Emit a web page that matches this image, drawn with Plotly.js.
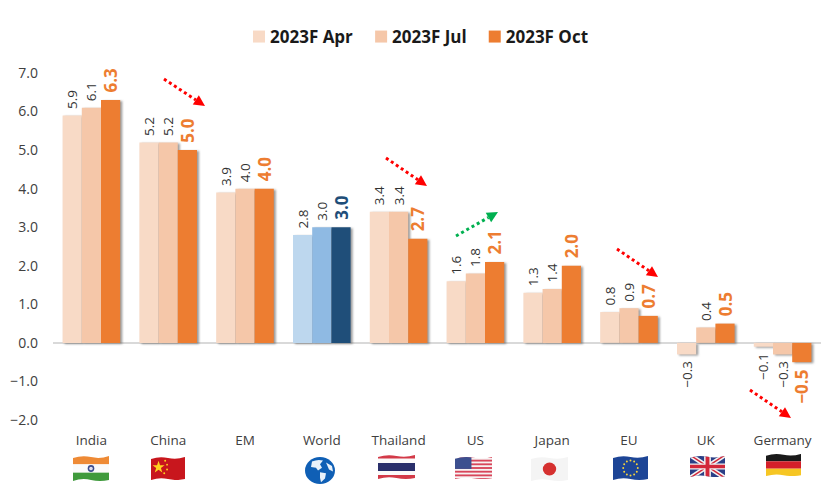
<!DOCTYPE html>
<html><head><meta charset="utf-8">
<script src="https://cdn.plot.ly/plotly-3.0.1.min.js"></script>
<style>
html,body{margin:0;padding:0;background:#fff}
#c{width:835px;height:484px}
.bars .point path{filter:drop-shadow(2px 1px 1px rgba(70,70,70,.55))}
</style></head><body><div id="c"></div>
<script>
const categories=["India","China","EM","World","Thailand","US","Japan","EU","UK","Germany"];
const apr=[5.9,5.2,3.9,2.8,3.4,1.6,1.3,0.8,-0.3,-0.1];
const jul=[6.1,5.2,4.0,3.0,3.4,1.8,1.4,0.9,0.4,-0.3];
const oct=[6.3,5.0,4.0,3.0,2.7,2.1,2.0,0.7,0.5,-0.5];
const seriesNames=["2023F Apr","2023F Jul","2023F Oct"];
const W=835,H=484,L=53,R=14,T=73,B=64;
const worldIdx=categories.indexOf("World");
const pw=W-L-R,ph=H-T-B;
const px=x=>(x-L)/pw, py=y=>1-(y-T)/ph;
const fmt=v=>v<0?"\u2212"+Math.abs(v).toFixed(1)+"\u00A0":"\u00A0"+v.toFixed(1);

function bar(vals,name,col,worldCol,font,worldFont){
  return {type:"bar",name:name,x:categories,y:vals,
    text:vals.map(fmt),textposition:"outside",textangle:-90,constraintext:"none",cliponaxis:false,
    textfont:{family:font.family,size:font.size,weight:font.weight||400,color:vals.map((v,i)=>i===worldIdx?worldFont:font.color)},
    marker:{color:vals.map((v,i)=>i===worldIdx?worldCol:col),line:{width:0}},hoverinfo:"x+y"};
}
const thin={family:"Open Sans, sans-serif",size:13.5,color:"#333333"};
const bold={family:"Open Sans, sans-serif",size:17,color:"#ED7D31",weight:700};
const data=[
  bar(apr,seriesNames[0],"#F8DAC6","#BDD7EE",thin,"#333333"),
  bar(jul,seriesNames[1],"#F5C7A9","#8FBAE3",thin,"#333333"),
  bar(oct,seriesNames[2],"#ED7D31","#1F4E79",bold,"#1F4E79")
];

// dotted trend arrows: [x0,y0,x1,y1,colour] in page pixels
const arrows=[[164,79,205,106,"#FF0000"],[386,158,427,186,"#FF0000"],[456,236,498,212,"#00B050"],[617,249,658,277,"#FF0000"],[750,390,791,418,"#FF0000"]];
const shapes=[];
arrows.forEach(a=>{
  const [x0,y0,x1,y1,c]=a,d=Math.hypot(x1-x0,y1-y0),ux=(x1-x0)/d,uy=(y1-y0)/d,hl=11,hw=5.5;
  const bx=x1-ux*hl,by=y1-uy*hl;
  shapes.push({type:"line",xref:"paper",yref:"paper",x0:px(x0),y0:py(y0),x1:px(bx),y1:py(by),line:{color:c,width:3,dash:"dot"}});
  const p=[[x1,y1],[bx-uy*hw,by+ux*hw],[bx+uy*hw,by-ux*hw]].map(q=>px(q[0])+","+py(q[1]));
  shapes.push({type:"path",xref:"paper",yref:"paper",path:"M"+p[0]+" L"+p[1]+" L"+p[2]+" Z",fillcolor:c,line:{width:0}});
});

// flag artwork
const wave='M0 3Q9 0 18 2T36 1V24Q27 26 18 24T0 25Z';
function flag(body){
  return 'data:image/svg+xml;utf8,'+encodeURIComponent('<svg xmlns="http://www.w3.org/2000/svg" viewBox="0 0 36 26"><defs><clipPath id="w"><path d="'+wave+'"/></clipPath></defs><g clip-path="url(#w)">'+body+'</g></svg>');
}
const r=(y,h,c)=>'<rect x="0" y="'+y+'" width="36" height="'+h+'" fill="'+c+'"/>';
let usStripes='';for(let i=0;i<7;i++)usStripes+=r(i*4,2,"#D8455A");
let euStars='';for(let i=0;i<12;i++){const t=i*Math.PI/6;euStars+='<circle cx="'+(18+7.5*Math.cos(t))+'" cy="'+(13+7.5*Math.sin(t))+'" r="1" fill="#F5D33C"/>';}
const flags={
 India:flag(r(0,9,"#EE8A35")+r(9,8,"#FAFAFA")+r(17,9,"#3F9A3C")+'<circle cx="18" cy="13" r="3.3" fill="#3B4A8C"/><circle cx="18" cy="13" r="1.8" fill="#DDE"/>'),
 China:flag(r(0,26,"#C8161D")+'<path d="M8 5l1.6 4.6 4.8 0-3.9 2.9 1.5 4.6-4-2.8-4 2.8 1.5-4.6-3.9-2.9 4.8 0z" fill="#FFD21F"/><circle cx="15" cy="5" r="1" fill="#FFD21F"/><circle cx="17" cy="9" r="1" fill="#FFD21F"/><circle cx="17" cy="14" r="1" fill="#FFD21F"/><circle cx="14" cy="18" r="1" fill="#FFD21F"/>'),
 World:'data:image/svg+xml;utf8,'+encodeURIComponent('<svg xmlns="http://www.w3.org/2000/svg" viewBox="0 0 30 30"><circle cx="15" cy="15" r="15" fill="#0F5FB5"/><path d="M7 5Q13 2 18 4L15 8 17 12 13 15 11 12 6 11ZM15 17L21 18 20 24 16 28 15 23ZM21 6L27 10 28 16 24 14Z" fill="#E8F1FA"/></svg>'),
 Thailand:flag(r(0,26,"#FAFAFA")+r(0,4.5,"#D33A48")+r(21,5,"#D33A48")+r(9,8,"#2A2F6B")),
 US:flag(r(0,26,"#F7F2F2")+usStripes+'<rect x="0" y="0" width="16" height="14" fill="#3C4F8F"/>'),
 Japan:flag(r(0,26,"#F4F4F4")+'<circle cx="18" cy="13" r="6.5" fill="#D5302F"/>'),
 EU:flag(r(0,26,"#1D4596")+euStars),
 UK:flag(r(0,26,"#2B3F86")+'<path d="M0 0L36 26M36 0L0 26" stroke="#F2F2F2" stroke-width="5"/><path d="M0 0L36 26M36 0L0 26" stroke="#D2283A" stroke-width="1.6"/><path d="M18 0V26M0 13H36" stroke="#F2F2F2" stroke-width="7"/><path d="M18 0V26M0 13H36" stroke="#D2283A" stroke-width="4"/>'),
 Germany:flag(r(0,9,"#1A1A1A")+r(9,8,"#D4202A")+r(17,9,"#F6C624"))
};
// name -> [left, top, width, height] in page pixels
const flagBoxes={India:[73,455,36,27],China:[151,456,34,25],World:[305,457,30,27],Thailand:[378,454,37,26],US:[455,456,37,24],Japan:[531,456,37,26],EU:[613,455,35,26],UK:[690,455,35,23],Germany:[766,453,35,24]};
const images=Object.keys(flagBoxes).map(k=>{const b=flagBoxes[k];return {source:flags[k],xref:"paper",yref:"paper",x:px(b[0]),y:py(b[1]),sizex:b[2]/pw,sizey:b[3]/ph,sizing:"stretch",xanchor:"left",yanchor:"top",layer:"above"};});

const layout={
  width:W,height:H,margin:{l:L,r:R,t:T,b:B,pad:0},
  paper_bgcolor:"#fff",plot_bgcolor:"#fff",
  barmode:"group",bargap:0.25,bargroupgap:0,
  font:{family:"Open Sans, sans-serif",color:"#404040"},
  showlegend:true,
  legend:{orientation:"h",x:418/W,xanchor:"center",xref:"container",y:1-37/H,yanchor:"middle",yref:"container",
    font:{family:"Open Sans, sans-serif",size:17,color:"#1a1a1a",weight:700},itemwidth:30,traceorder:"normal"},
  xaxis:{type:"category",categoryorder:"array",categoryarray:categories,showgrid:false,zeroline:false,showline:false,ticks:"",
    tickfont:{size:13.5,color:"#404040"},ticklabelstandoff:10,tickangle:0},
  yaxis:{range:[-2,7],dtick:1,tick0:0,tickformat:".1f",showgrid:false,showline:false,ticks:"",
    zeroline:true,zerolinecolor:"#D9D9D9",zerolinewidth:1.5,
    tickfont:{size:14,color:"#404040"},ticklabelstandoff:14},
  shapes:shapes,images:images
};
Plotly.newPlot("c",data,layout,{displayModeBar:false,staticPlot:true}).then(()=>{
  // tighten the legend: swatch closer to its text, entries closer together
  document.querySelectorAll("#c .legend .traces").forEach((g,i)=>{
    const m=/translate\(\s*([-\d.]+)[ ,]+([-\d.]+)/.exec(g.getAttribute("transform")||"");
    if(m)g.setAttribute("transform","translate("+(parseFloat(m[1])-6*i)+","+m[2]+")");
    const s=g.querySelector(".legendsymbols");
    if(s)s.setAttribute("transform","translate(9,0)");
  });
});
</script></body></html>
